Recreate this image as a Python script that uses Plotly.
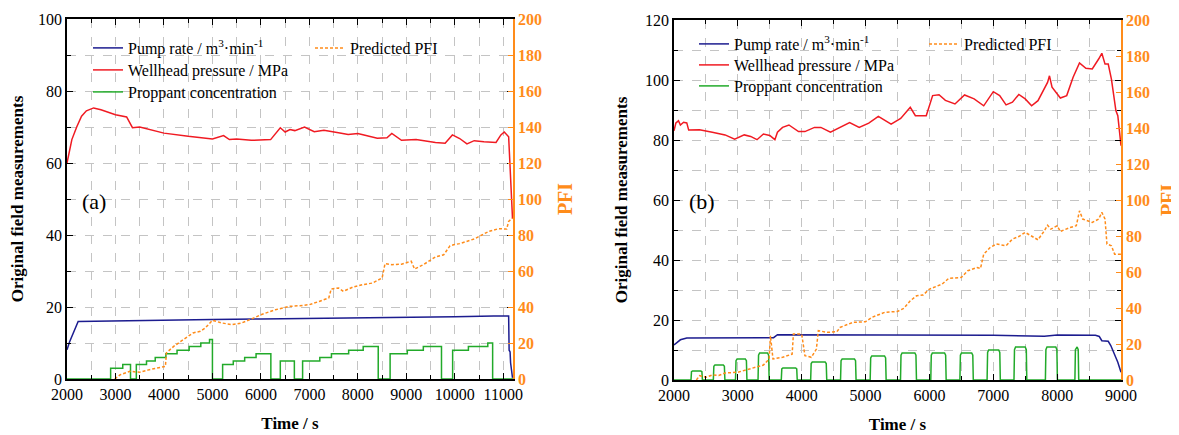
import plotly.graph_objects as go

# ---------------- Panel (a) data ----------------
pump_a_t = [2000, 2050, 2230, 3000, 4000, 5000, 6000, 7000, 8000, 9000, 10000, 10800, 11110, 11120, 11140, 11150, 11165, 11190]
pump_a_v = [8.1, 10.2, 16.0, 16.1, 16.3, 16.5, 16.7, 16.8, 17.0, 17.2, 17.3, 17.5, 17.5, 8.0, 7.5, 4.5, 2.0, 0.3]

press_a_t = [2000, 2100, 2200, 2300, 2400, 2550, 2700, 3000, 3230, 3300, 3350, 3500, 3800, 4000, 4500,
             5000, 5230, 5350, 5500, 5800, 6200, 6400, 6500, 6600, 6700, 6900, 7100, 7300, 7600, 7800,
             8000, 8200, 8400, 8600, 8700, 8900, 9200, 9600, 9800, 9950, 10100, 10250, 10400, 10600,
             10850, 10950, 11020, 11110, 11150, 11190]
press_a_v = [60.0, 66.5, 70.0, 73.0, 74.5, 75.3, 74.8, 73.4, 72.8, 71.0, 69.8, 70.0, 68.9, 68.3, 67.4,
             66.7, 67.6, 66.5, 66.7, 66.3, 66.5, 69.8, 68.6, 69.3, 69.0, 70.0, 68.7, 69.1, 68.4, 67.9,
             68.2, 67.5, 66.9, 67.0, 68.2, 66.3, 66.5, 65.7, 65.5, 67.8, 66.8, 65.3, 66.2, 65.9,
             65.7, 67.8, 68.6, 67.3, 55.0, 44.5]

prop_a_t = [2000, 2900, 3150, 3310, 3430, 3640, 3820, 4040, 4270, 4520, 4760, 4940, 5000,
            5210, 5430, 5665, 5900, 6205, 6400, 6690, 6860, 7215, 7455, 7810, 8110, 8420,
            8665, 9020, 9350, 9725, 9955, 10280, 10680, 10780, 11200]
prop_a_v = [0, 3, 4, 0, 4, 5, 6, 7, 8, 9, 10, 11, 0,
            4, 5, 6, 7, 0, 5, 0, 5, 6, 7, 8, 9, 0,
            7, 8, 9, 0, 8, 9, 10, 0, 0]

pfi_a_t = [2985, 3100, 3300, 3500, 3700, 3900, 4030, 4050, 4200, 4400, 4600, 4750, 4850, 5000,
           5200, 5400, 5600, 5800, 6000, 6300, 6600, 6800, 7000, 7200, 7400, 7450, 7600, 7700,
           7900, 8100, 8300, 8500, 8560, 8700, 8900, 9100, 9170, 9350, 9600, 9770, 9900, 9975,
           10100, 10400, 10700, 10900, 11070, 11110, 11190]
pfi_a_v = [0.0, 2.4, 4.3, 3.7, 5.2, 6.1, 7.0, 14.5, 18.1, 21.9, 25.6, 26.5, 28.3, 32.6,
           31.1, 30.2, 31.1, 33.3, 35.7, 38.5, 40.4, 40.7, 41.3, 43.1, 45.0, 50.0, 50.6, 48.7,
           51.1, 52.4, 53.3, 56.1, 64.1, 63.5, 63.8, 65.4, 61.1, 63.5, 67.8, 69.0, 74.0, 74.6,
           75.2, 77.8, 82.0, 83.5, 83.3, 87.6, 89.4]

# ---------------- Panel (b) data ----------------
pump_b_t = [2000, 2100, 2200, 2500, 3000, 3500, 3560, 3620, 4000, 5000, 6000, 7000, 7800, 7900,
            8000, 8600, 8660, 8700, 8800, 8840, 8880, 8950, 9000]
pump_b_v = [11.7, 13.4, 14.0, 14.0, 14.0, 14.1, 14.1, 15.1, 15.1, 15.1, 15.0, 14.9, 14.6, 14.9,
            15.0, 14.9, 14.5, 13.1, 12.9, 11.5, 9.5, 5.9, 2.6]

press_b_t = [2000, 2030, 2070, 2100, 2150, 2200, 2230, 2400, 2600, 2800, 2950, 3100, 3200, 3300,
             3400, 3500, 3580, 3620, 3700, 3800, 3950, 4050, 4200, 4300, 4450, 4600, 4750, 4900,
             5050, 5200, 5400, 5550, 5700, 5780, 5950, 6050, 6150, 6250, 6400, 6550, 6700, 6850,
             7000, 7100, 7200, 7300, 7400, 7500, 7600, 7700, 7850, 7880, 7920, 8050, 8150, 8250,
             8350, 8450, 8550, 8650, 8700, 8750, 8800, 8850, 8920, 8950, 9000]
press_b_v = [83.1, 85.7, 86.4, 85.0, 85.9, 85.7, 83.3, 83.4, 82.6, 81.7, 80.3, 81.7, 81.2, 80.1,
             82.0, 81.5, 80.1, 82.6, 84.2, 85.0, 82.8, 82.8, 84.2, 84.2, 82.6, 84.2, 85.8, 84.2,
             85.6, 87.9, 85.3, 87.2, 90.9, 88.1, 88.1, 94.8, 95.1, 93.2, 92.0, 95.0, 93.7, 91.4,
             96.1, 94.8, 91.7, 92.6, 95.2, 93.7, 91.4, 93.1, 99.2, 101.4, 97.6, 94.0, 94.8, 100.9,
             105.7, 103.9, 103.7, 107.0, 108.9, 105.3, 105.3, 100.3, 89.8, 88.1, 78.1]

bump_start = [2266, 2616, 2963, 3316, 3680, 4140, 4608, 5072, 5547, 6021, 6477, 6903, 7324, 7816, 8278]
bump_end = [2445, 2797, 3142, 3490, 3930, 4392, 4851, 5322, 5797, 6262, 6687, 7110, 7525, 8004, 8338]
bump_level = [3, 5, 7, 9, 4, 6, 7, 8, 9, 9, 9, 10, 11, 11, 11]

pfi_b_t = [2350, 2400, 2500, 2600, 2700, 2800, 3000, 3200, 3400, 3490, 3510, 3550, 3700, 3850,
           3870, 4000, 4050, 4150, 4230, 4260, 4400, 4550, 4600, 4800, 5000, 5100, 5300, 5500,
           5600, 5700, 5800, 5900, 6000, 6200, 6300, 6500, 6600, 6750, 6800, 6850, 6950, 7050,
           7200, 7300, 7400, 7500, 7600, 7700, 7800, 7850, 7900, 8000, 8050, 8200, 8300, 8350,
           8400, 8550, 8650, 8700, 8750, 8780, 8850, 8900, 9000]
pfi_b_v = [0.0, 2.4, 1.5, 2.8, 2.5, 3.9, 4.3, 6.1, 8.3, 11.7, 24.6, 11.7, 12.6, 14.4,
           25.5, 25.5, 13.5, 12.6, 17.2, 27.4, 26.5, 26.8, 29.2, 32.0, 32.4, 34.8, 37.6, 38.1,
           39.8, 44.0, 46.8, 47.2, 50.5, 53.3, 56.4, 57.0, 60.7, 62.5, 62.0, 69.9, 73.6, 75.5,
           74.6, 78.3, 79.7, 82.0, 80.1, 77.9, 82.9, 86.0, 83.8, 85.7, 82.5, 84.7, 85.7, 94.0,
           89.4, 87.5, 89.4, 93.1, 89.4, 75.5, 74.6, 69.9, 69.9]

# build proppant (b) outline from the read bump extents
prop_b_t, prop_b_v = [2000], [0]
for s, e, lv in zip(bump_start, bump_end, bump_level):
    prop_b_t += [s, s + 8, s + 25, e - 25, e - 8, e]
    prop_b_v += [0, lv * 0.92, lv, lv, lv * 0.92, 0]
prop_b_t.append(9000)
prop_b_v.append(0)

# ---------------- styling ----------------
SERIF = "Liberation Serif, Times New Roman, serif"
NAVY = "#1c1c8f"
RED = "#f01a22"
GREEN = "#22aa2a"
ORANGE = "#ff8c1a"
GRID = "#c4c4c4"
OFF = 8                      # page body margin of the browser
W, H = 1179 - OFF, 435 - OFF

pump_name = "Pump rate / m<sup>3</sup>·min<sup>-1</sup>"
press_name = "Wellhead pressure / MPa"
prop_name = "Proppant concentration"
pfi_name = "Predicted PFI"

fig = go.Figure()

def add_panel(xa, ya, ya2, lgs, pt, pv, wt, wv, ct, cv, ft, fv, shape_prop):
    fig.add_trace(go.Scatter(x=pt, y=pv, xaxis=xa, yaxis=ya, mode="lines", name=pump_name,
                             line=dict(color=NAVY, width=1.5), legend=lgs[0], showlegend=True))
    fig.add_trace(go.Scatter(x=wt, y=wv, xaxis=xa, yaxis=ya, mode="lines", name=press_name,
                             line=dict(color=RED, width=1.5), legend=lgs[1], showlegend=True))
    fig.add_trace(go.Scatter(x=ct, y=cv, xaxis=xa, yaxis=ya, mode="lines", name=prop_name,
                             line=dict(color=GREEN, width=1.5, shape=shape_prop), legend=lgs[2],
                             showlegend=True))
    fig.add_trace(go.Scatter(x=ft, y=fv, xaxis=xa, yaxis=ya2, mode="lines", name=pfi_name,
                             line=dict(color=ORANGE, width=1.5, dash="3px,2px"), legend=lgs[3],
                             showlegend=True))

add_panel("x", "y", "y2", ["legend", "legend2", "legend3", "legend4"], pump_a_t, pump_a_v,
          press_a_t, press_a_v, prop_a_t, prop_a_v, pfi_a_t, pfi_a_v, "hv")
add_panel("x2", "y3", "y4", ["legend5", "legend6", "legend7", "legend8"], pump_b_t, pump_b_v,
          press_b_t, press_b_v, prop_b_t, prop_b_v, pfi_b_t, pfi_b_v, "linear")

def px_x(p):
    return (p - OFF) / W

def px_y(p):
    return 1 - (p - OFF) / H

tickfont = dict(family=SERIF, size=16, color="black")
titlefont = dict(family=SERIF, size=17, color="black", weight="bold")

def xaxis(domain, rng, anchor):
    return dict(domain=domain, range=rng, anchor=anchor, automargin=False,
                showline=True, linecolor="black", linewidth=1.5,
                mirror="ticks", ticks="inside", ticklen=6, tickwidth=1.3, tickcolor="black",
                tick0=2000, dtick=1000, tickformat="d",
                showgrid=True, gridcolor=GRID, griddash="dash", gridwidth=1,
                minor=dict(tick0=2000, dtick=500, ticks="inside", ticklen=4, tickcolor="black",
                           showgrid=True, gridcolor=GRID, griddash="dash", gridwidth=1),
                tickfont=tickfont, zeroline=False,
                title=dict(text="<b>Time / s</b>", font=titlefont, standoff=15))

def yaxis(domain, rng, anchor):
    return dict(domain=domain, range=rng, anchor=anchor, automargin=False,
                showline=True, linecolor="black", linewidth=1.5,
                mirror="ticks", ticks="inside", ticklen=6, tickwidth=1.3, tickcolor="black",
                tick0=0, dtick=20, showgrid=True, gridcolor=GRID, griddash="dash", gridwidth=1,
                minor=dict(tick0=0, dtick=10, ticks="inside", ticklen=4, tickcolor="black",
                           showgrid=True, gridcolor=GRID, griddash="dash", gridwidth=1),
                tickfont=tickfont, zeroline=False,
                title=dict(text="<b>Original field measurements</b>", font=titlefont, standoff=13))

def y2axis(overlay, anchor):
    return dict(overlaying=overlay, anchor=anchor, side="right", range=[0, 200], tick0=0, dtick=20,
                automargin=False,
                showline=True, linecolor=ORANGE, linewidth=1.5, ticks="inside", ticklen=5,
                tickcolor=ORANGE, showgrid=False, zeroline=False,
                tickfont=dict(family=SERIF, size=16, color=ORANGE, weight="bold"),
                title=dict(text="<b>PFI</b>", font=dict(family=SERIF, size=20, color=ORANGE, weight="bold"),
                           standoff=17))

legfont = dict(family=SERIF, size=16, color="black")

def leg(xtext, ycenter):
    # xtext: where the entry text starts, ycenter: vertical centre of the entry (reference px)
    return dict(x=px_x(xtext - 39), y=px_y(ycenter - 16), xanchor="left", yanchor="top",
                bgcolor="rgba(0,0,0,0)", borderwidth=0, font=legfont, itemclick=False)

fig.update_layout(
    width=W, height=H, autosize=False, showlegend=True,
    margin=dict(l=0, r=0, t=0, b=0),
    paper_bgcolor="white", plot_bgcolor="white",
    font=dict(family=SERIF, size=16, color="black"),
    xaxis=xaxis([px_x(67), px_x(513)], [2000, 11200], "y"),
    yaxis=yaxis([px_y(379), px_y(19)], [0, 100], "x"),
    yaxis2=y2axis("y", "x"),
    xaxis2=xaxis([px_x(674), px_x(1121)], [2000, 9000], "y3"),
    yaxis3=yaxis([px_y(380), px_y(20)], [0, 120], "x2"),
    yaxis4=y2axis("y3", "x2"),
    legend=leg(127, 47),
    legend2=leg(127, 69),
    legend3=leg(127, 91),
    legend4=leg(349, 47),
    legend5=leg(733, 43),
    legend6=leg(733, 64),
    legend7=leg(733, 85),
    legend8=leg(963, 43),
    annotations=[
        dict(text="(a)", x=px_x(94), y=px_y(201), xref="paper", yref="paper", showarrow=False,
             xanchor="center", yanchor="middle", font=dict(family=SERIF, size=22, color="black")),
        dict(text="(b)", x=px_x(702), y=px_y(201), xref="paper", yref="paper", showarrow=False,
             xanchor="center", yanchor="middle", font=dict(family=SERIF, size=22, color="black")),
    ],
)

fig.write_html("out.html")
